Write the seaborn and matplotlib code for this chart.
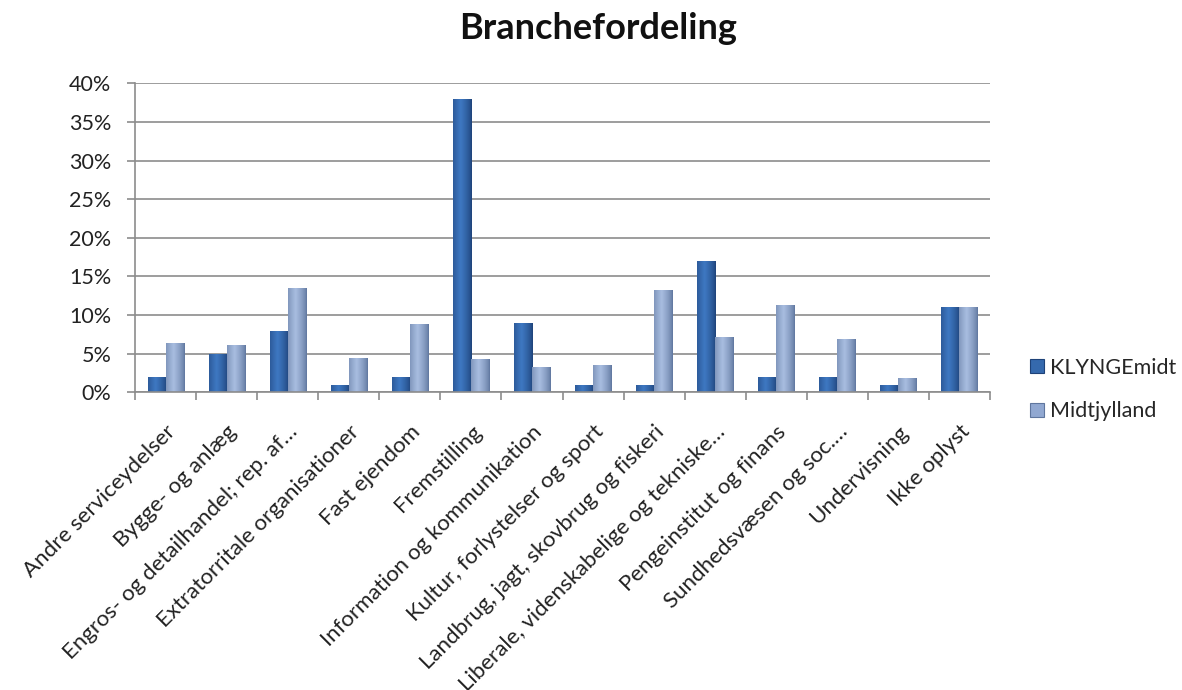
import matplotlib
matplotlib.use("Agg")
import matplotlib.pyplot as plt
import seaborn as sns
import pandas as pd
import numpy as np
from matplotlib.patches import Patch
from matplotlib.colors import to_rgb
from matplotlib.ticker import FixedLocator, FuncFormatter

categories = [
    "Andre serviceydelser", "Bygge- og anlæg", "Engros- og detailhandel; rep. af…",
    "Extratorritale organisationer", "Fast ejendom", "Fremstilling",
    "Information og kommunikation", "Kultur, forlystelser og sport",
    "Landbrug, jagt, skovbrug og fiskeri", "Liberale, videnskabelige og tekniske…",
    "Pengeinstitut og finans", "Sundhedsvæsen og soc.…", "Undervisning", "Ikke oplyst",
]
klyngemidt = [2, 5, 8, 1, 2, 38, 9, 1, 1, 17, 2, 2, 1, 11]
midtjylland = [6.4, 6.1, 13.5, 4.4, 8.8, 4.3, 3.3, 3.5, 13.2, 7.2, 11.3, 6.9, 1.9, 11.1]
series = ["KLYNGEmidt", "Midtjylland"]
yticks = [0, 5, 10, 15, 20, 25, 30, 35, 40]

df = pd.DataFrame({
    "Branche": categories * 2,
    "Serie": [series[0]] * len(categories) + [series[1]] * len(categories),
    "Andel": klyngemidt + midtjylland,
})

sns.set_theme(style="white")
plt.rcParams["font.family"] = ["Lato", "DejaVu Sans"]

colors = {"KLYNGEmidt": "#3569AD", "Midtjylland": "#91A8D1"}
edge_dark = {"KLYNGEmidt": "#1E4278", "Midtjylland": "#5F769E"}
center_light = {"KLYNGEmidt": "#3E78C2", "Midtjylland": "#A8BDE0"}
fs = 15.5

fig = plt.figure(figsize=(11.82, 6.90), dpi=100)
ax = fig.add_axes([135 / 1182, 1 - 392.3 / 690, (990 - 135) / 1182, (392.3 - 83.3) / 690])

sns.barplot(data=df, x="Branche", y="Andel", hue="Serie", palette=colors,
            width=0.59, gap=0, ax=ax, legend=False, edgecolor="none", linewidth=0)

# horizontal shading inside each bar (clipped to the bar drawn by seaborn)
t = np.linspace(0, 1, 40)
prof = np.clip(1 - np.abs(t - 0.4) / 0.6, 0, 1) ** 0.7
bar_patches = [p for p in ax.patches if p.get_height() > 0]
n = len(categories)
for i, p in enumerate(bar_patches):
    s = series[0] if i < n else series[1]
    c0 = np.array(to_rgb(edge_dark[s]))
    c1 = np.array(to_rgb(center_light[s]))
    img = (c0[None, :] * (1 - prof[:, None]) + c1[None, :] * prof[:, None])[None, :, :]
    x0, w, h = p.get_x(), p.get_width(), p.get_height()
    im = ax.imshow(img, extent=[x0, x0 + w, 0, h], aspect="auto", zorder=p.get_zorder() + 0.1,
                   interpolation="bilinear")
    im.set_clip_path(p)

ax.set_ylim(0, 40)
ax.set_xlim(-0.5, len(categories) - 0.5)
ax.set_aspect("auto")
ax.yaxis.set_major_locator(FixedLocator(yticks))
ax.yaxis.set_major_formatter(FuncFormatter(lambda v, p: f"{int(v)}%"))
ax.grid(axis="y", color="#8C8C8C", linewidth=1.2)
ax.set_axisbelow(True)
for s in ["top", "right"]:
    ax.spines[s].set_visible(False)
for s in ["left", "bottom"]:
    ax.spines[s].set_color("#8C8C8C")
    ax.spines[s].set_linewidth(1.2)

ax.set_xlabel("")
ax.set_ylabel("")
ax.tick_params(axis="y", labelsize=fs, length=6, width=1.2, color="#8C8C8C", left=True,
               labelcolor="#222222", pad=11)
ax.set_xticks(range(len(categories)))
ax.set_xticklabels(categories, rotation=45, ha="right", rotation_mode="anchor",
                   fontsize=16, color="#222222")
ax.tick_params(axis="x", which="major", length=0, pad=21)
ax.xaxis.set_minor_locator(FixedLocator([i - 0.5 for i in range(len(categories) + 1)]))
ax.tick_params(axis="x", which="minor", length=6, width=1.2, color="#8C8C8C", bottom=True)

fig.suptitle("Branchefordeling", x=598 / 1182, y=1 - 12 / 690, va="top",
             fontsize=26, fontweight="bold", color="#111111")

handles = [Patch(facecolor=colors[s], edgecolor=edge_dark[s], linewidth=0.8) for s in series]
fig.legend(handles, series, loc="center left", bbox_to_anchor=(1030 / 1182, 1 - 389.5 / 690),
           frameon=False, fontsize=fs, handlelength=0.65, handleheight=0.65,
           handletextpad=0.3, labelspacing=1.1, borderpad=0, borderaxespad=0)

fig.savefig("out.png", dpi=100)
